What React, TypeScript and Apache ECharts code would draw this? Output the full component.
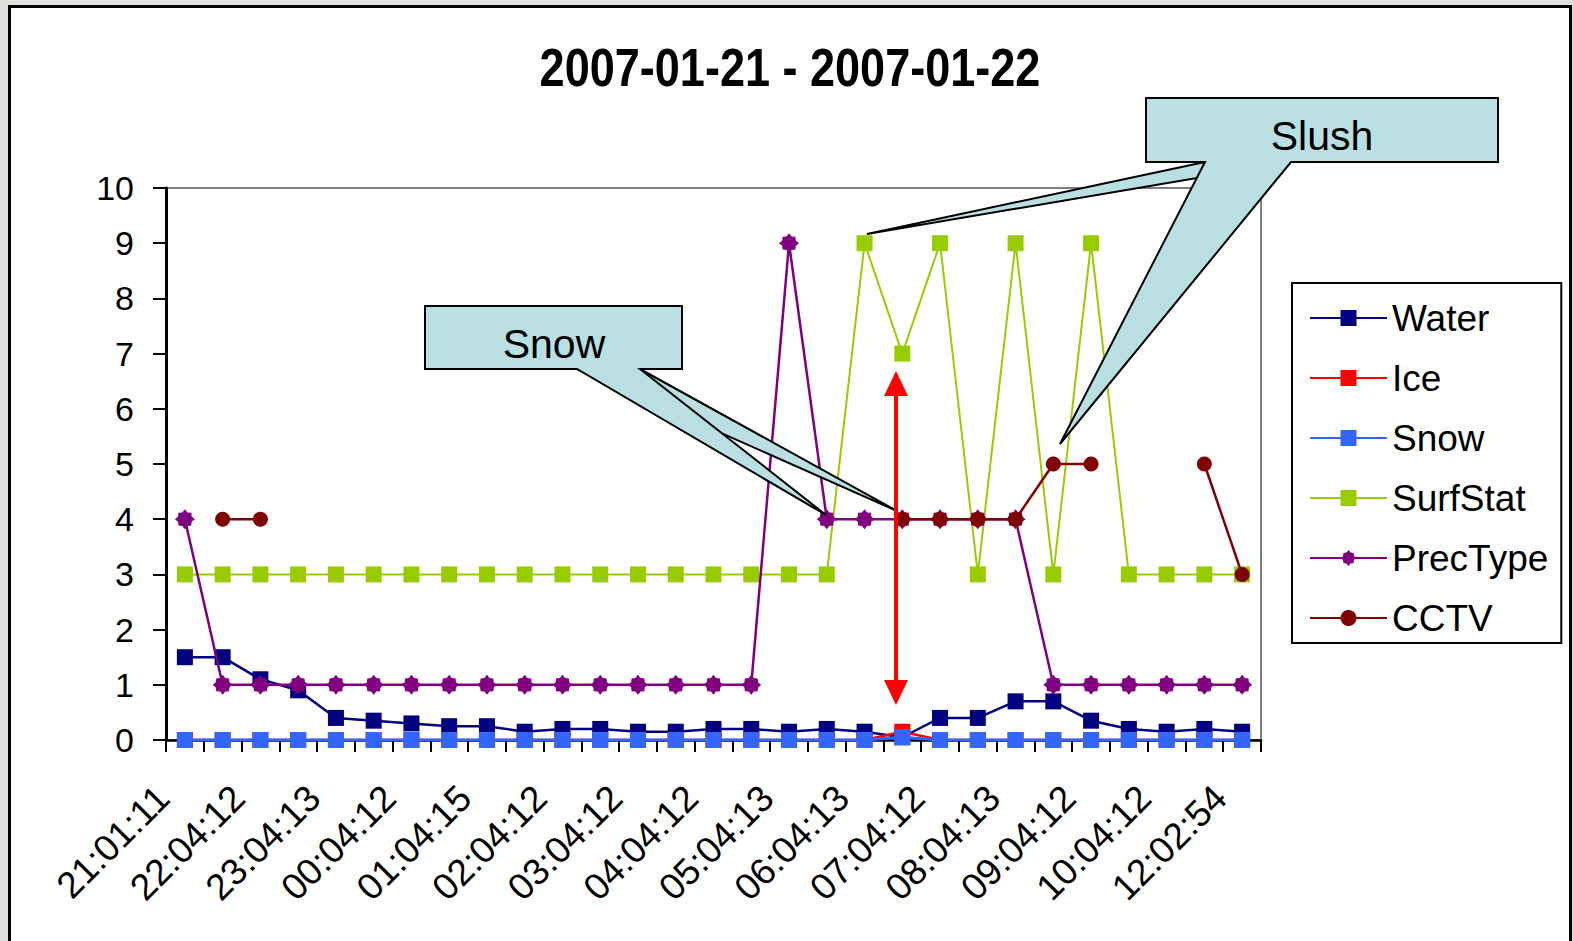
import React, { useEffect, useRef } from 'react';
import * as echarts from 'echarts';

const titleText = '2007-01-21 - 2007-01-22';

const categories = [
  '21:01:11', '', '22:04:12', '', '23:04:13', '', '00:04:12', '', '01:04:15', '',
  '02:04:12', '', '03:04:12', '', '04:04:12', '', '05:04:13', '', '06:04:13', '',
  '07:04:12', '', '08:04:13', '', '09:04:12', '', '10:04:12', '', '12:02:54',
];

const yTicks = [0, 1, 2, 3, 4, 5, 6, 7, 8, 9, 10];

const water = [1.5, 1.5, 1.1, 0.9, 0.4, 0.35, 0.3, 0.25, 0.25, 0.15, 0.2, 0.2, 0.15, 0.15, 0.2, 0.2, 0.15, 0.2, 0.15, 0.05, 0.4, 0.4, 0.7, 0.7, 0.35, 0.2, 0.15, 0.2, 0.15];
const ice = [0, 0, 0, 0, 0, 0, 0, 0, 0, 0, 0, 0, 0, 0, 0, 0, 0, 0, 0, 0.15, 0, 0, 0, 0, 0, 0, 0, 0, 0];
const snow = [0, 0, 0, 0, 0, 0, 0, 0, 0, 0, 0, 0, 0, 0, 0, 0, 0, 0, 0, 0.05, 0, 0, 0, 0, 0, 0, 0, 0, 0];
const surfStat = [3, 3, 3, 3, 3, 3, 3, 3, 3, 3, 3, 3, 3, 3, 3, 3, 3, 3, 9, 7, 9, 3, 9, 3, 9, 3, 3, 3, 3];
const precType = [4, 1, 1, 1, 1, 1, 1, 1, 1, 1, 1, 1, 1, 1, 1, 1, 9, 4, 4, 4, 4, 4, 4, 1, 1, 1, 1, 1, 1];
const cctv = [null, 4, 4, null, null, null, null, null, null, null, null, null, null, null, null, null, null, null, null, 4, 4, 4, 4, 5, 5, null, null, 5, 3];

const seriesNames = ['Water', 'Ice', 'Snow', 'SurfStat', 'PrecType', 'CCTV'];
const seriesValues = [water, ice, snow, surfStat, precType, cctv];
const seriesColors = ['#000080', '#FF0000', '#3366FF', '#99CC00', '#800080', '#800000'];
const BLOB = 'path://M5 0 L6.3 1.6 L8.2 1.8 L8.4 3.7 L10 5 L8.4 6.3 L8.2 8.2 L6.3 8.4 L5 10 L3.7 8.4 L1.8 8.2 L1.6 6.3 L0 5 L1.6 3.7 L1.8 1.8 L3.7 1.6 Z';
const seriesSymbols = ['rect', 'rect', 'rect', 'rect', BLOB, 'circle'];
const seriesSymbolSizes = [16, 16, 16, 16, 20, 15];
const seriesLineWidths = [2.5, 2.5, 3, 2, 2.5, 2.5];

const FONT = '"Liberation Sans", Arial, Helvetica, sans-serif';
const CALLOUT_FILL = '#BADFE2';

function callout(L: number, T: number, R: number, B: number, b1: number, b2: number, tip: number[]) {
  return {
    type: 'polygon',
    z: 100,
    shape: { points: [[L, T], [R, T], [R, B], [b2, B], tip, [b1, B], [L, B]] },
    style: { fill: CALLOUT_FILL, stroke: '#000', lineWidth: 2 },
    silent: true,
  };
}

export default function App() {
  const ref = useRef<HTMLDivElement>(null);
  useEffect(() => {
    const chart = echarts.init(ref.current!, null, { renderer: 'svg' });
    const series = seriesNames.map((name, i) => ({
      name,
      type: 'line',
      data: seriesValues[i],
      symbol: seriesSymbols[i],
      symbolSize: seriesSymbolSizes[i],
      symbolKeepAspect: true,
      showAllSymbol: true,
      connectNulls: false,
      lineStyle: { color: seriesColors[i], width: seriesLineWidths[i] },
      itemStyle: { color: seriesColors[i], borderWidth: 0 },
      emphasis: { disabled: true },
      z: 2 + i * 0.01,
    }));
    chart.setOption({
      animation: false,
      backgroundColor: '#e1dfdb',
      legend: {
        orient: 'vertical',
        left: 1292,
        top: 283,
        padding: [15, 13, 5, 17],
        itemGap: 20,
        itemWidth: 77,
        itemHeight: 20,
        backgroundColor: '#fff',
        borderColor: '#000',
        borderWidth: 2,
        borderRadius: 0,
        textStyle: { fontFamily: FONT, fontSize: 37, color: '#000', lineHeight: 40 },
        data: seriesNames,
      },
      grid: {
        left: 166,
        right: 312,
        top: 188,
        bottom: 201,
        show: true,
        borderColor: '#808080',
        borderWidth: 2,
        backgroundColor: 'transparent',
      },
      xAxis: {
        type: 'category',
        data: categories,
        boundaryGap: true,
        axisLine: { show: true, lineStyle: { color: '#000', width: 2.5 } },
        axisTick: { show: true, interval: 0, length: 12, lineStyle: { color: '#000', width: 2 } },
        axisLabel: {
          interval: 1,
          rotate: 45,
          margin: 30,
          padding: [0, 31, 0, 0],
          fontFamily: FONT,
          fontSize: 37,
          color: '#000',
        },
        splitLine: { show: false },
      },
      yAxis: {
        type: 'value',
        min: yTicks[0],
        max: yTicks[yTicks.length - 1],
        interval: 1,
        axisLine: { show: true, lineStyle: { color: '#000', width: 3 } },
        axisTick: { show: true, length: 13, lineStyle: { color: '#000', width: 2 } },
        axisLabel: { margin: 32, fontFamily: FONT, fontSize: 34, color: '#000' },
        splitLine: { show: false },
      },
      graphic: [
        {
          type: 'rect',
          z: -10,
          shape: { x: 9.5, y: 6.5, width: 1561, height: 1000 },
          style: { fill: '#fff', stroke: '#000', lineWidth: 3 },
          silent: true,
        },
        // title (condensed bold, like the original)
        {
          type: 'text', z: 101, x: 790, y: 67, scaleX: 0.85,
          style: { text: titleText, fontFamily: FONT, fontSize: 53, fontWeight: 'bold', fill: '#000', align: 'center', verticalAlign: 'middle' },
          silent: true,
        },
        // Snow callout (two pointers)
        callout(425, 306, 682, 369, 577, 640, [897, 511]),
        callout(425, 306, 682, 369, 577, 640, [826, 515]),
        {
          type: 'text', z: 101, x: 554, y: 344,
          style: { text: 'Snow', fontFamily: FONT, fontSize: 41, fill: '#000', align: 'center', verticalAlign: 'middle' },
          silent: true,
        },
        // Slush callout (two pointers)
        callout(1146, 98, 1498, 162, 1205, 1291, [867, 234]),
        callout(1146, 98, 1498, 162, 1205, 1291, [1060, 444]),
        {
          type: 'text', z: 101, x: 1322, y: 136,
          style: { text: 'Slush', fontFamily: FONT, fontSize: 41, fill: '#000', align: 'center', verticalAlign: 'middle' },
          silent: true,
        },
        // red double arrow
        {
          type: 'line', z: 100,
          shape: { x1: 896, y1: 392, x2: 896, y2: 684 },
          style: { stroke: '#FF0000', lineWidth: 4 },
          silent: true,
        },
        {
          type: 'polygon', z: 100,
          shape: { points: [[896, 371], [884, 396], [908, 396]] },
          style: { fill: '#FF0000' },
          silent: true,
        },
        {
          type: 'polygon', z: 100,
          shape: { points: [[896, 705], [884, 680], [908, 680]] },
          style: { fill: '#FF0000' },
          silent: true,
        },
      ],
      series,
    });
    return () => chart.dispose();
  }, []);
  return <div ref={ref} style={{ position: 'fixed', left: 0, top: 0, width: 1573, height: 941 }} />;
}
